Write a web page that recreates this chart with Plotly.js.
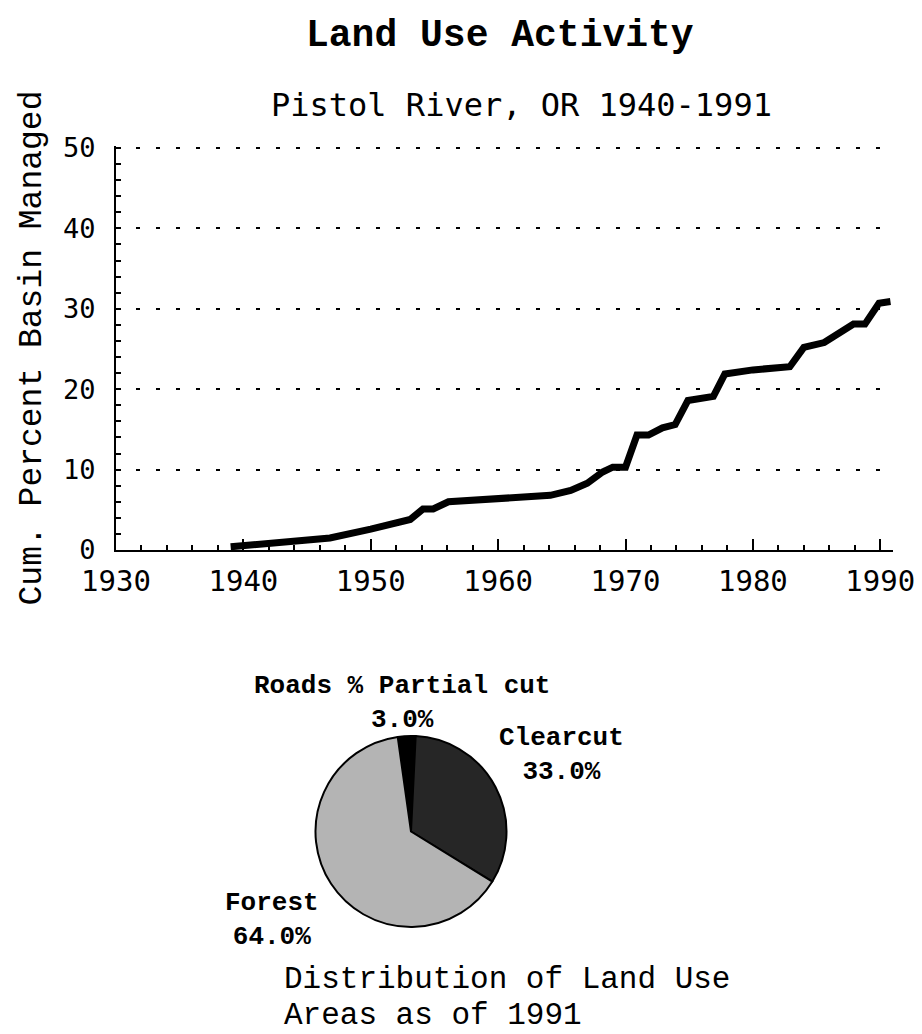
<!DOCTYPE html>
<html>
<head>
<meta charset="utf-8">
<script src="https://cdn.plot.ly/plotly-3.0.1.min.js"></script>
<style>
html,body{margin:0;padding:0;background:#fff;}
#chart{width:922px;height:1034px;}
</style>
</head>
<body>
<div id="chart"></div>
<script>
// ---- data ----
const years = [1939, 1946.8, 1950, 1953.1, 1954.1, 1954.9, 1956.1, 1960, 1964.1, 1965.7,
               1967.0, 1968.2, 1969.0, 1970.0, 1970.9, 1971.8, 1972.9, 1973.9, 1974.9, 1976.9,
               1977.8, 1980.0, 1981.0, 1982.9, 1984.0, 1985.6, 1987.9, 1988.8, 1989.9, 1990.8];
const pctManaged = [0.4, 1.5, 2.6, 3.8, 5.1, 5.1, 6.0, 6.4, 6.8, 7.4,
                    8.3, 9.7, 10.3, 10.3, 14.3, 14.3, 15.2, 15.6, 18.6, 19.1,
                    21.9, 22.4, 22.6, 22.8, 25.2, 25.8, 28.1, 28.1, 30.7, 30.9];
const xTickVals = [1930, 1940, 1950, 1960, 1970, 1980, 1990];
const yTickVals = [0, 10, 20, 30, 40, 50];
const pieLabels = ["Roads % Partial cut", "Clearcut", "Forest"];
const pieValues = [3, 33, 64];

const titleText = "Land Use Activity";
const subtitleText = "Pistol River, OR 1940-1991";
const yTitleText = "Cum. Percent Basin Managed";
const captionLines = ["Distribution of Land Use", "Areas as of 1991"];

// ---- layout helpers (pixel -> paper) ----
const W = 922, H = 1034;
const px = x => x / W;
const py = y => (H - y) / H;

const serifMono = "'Courier New', Courier, 'Nimbus Mono PS', 'FreeMono', 'Liberation Mono', monospace";
const sansMono = "'DejaVu Sans Mono', monospace";

const lineTrace = {
  type: 'scatter', mode: 'lines',
  x: years, y: pctManaged,
  line: {color: '#000', width: 7, shape: 'linear'},
  xaxis: 'x', yaxis: 'y',
  hoverinfo: 'skip', showlegend: false
};

const pieTrace = {
  type: 'pie',
  labels: pieLabels, values: pieValues,
  sort: false, direction: 'clockwise', rotation: -8,
  marker: {colors: ['#000000', '#262626', '#b4b4b4'], line: {color: '#000', width: 2}},
  textinfo: 'none', hoverinfo: 'skip', showlegend: false,
  domain: {x: [px(315), px(507)], y: [py(927), py(736)]}
};

// pie label positions (pixel)
const pieLabelPos = [[402, 703], [561, 755], [272, 920]];
const pieAnnots = pieLabels.map((lab, i) => ({
  xref: 'paper', yref: 'paper',
  x: px(pieLabelPos[i][0]), y: py(pieLabelPos[i][1]),
  xanchor: 'center', yanchor: 'middle', align: 'center',
  text: '<b>' + lab + '</b><br><b>' + pieValues[i].toFixed(1) + '%</b>',
  showarrow: false,
  font: {family: serifMono, size: 26, color: '#000'}
}));

const captionY = [979, 1015];
const captionAnnots = captionLines.map((t, i) => ({
  xref: 'paper', yref: 'paper', x: px(283), y: py(captionY[i]),
  xanchor: 'left', yanchor: 'middle', align: 'left',
  text: t, showarrow: false, borderpad: 0,
  font: {family: serifMono, size: 31, color: '#000'}
}));

const layout = {
  width: W, height: H,
  margin: {l: 0, r: 0, t: 0, b: 0},
  paper_bgcolor: '#fff', plot_bgcolor: '#fff',
  showlegend: false,
  xaxis: {
    domain: [px(116), px(893)],
    anchor: 'y',
    range: [1930, 1991],
    tickvals: xTickVals,
    ticktext: xTickVals.map(String),
    ticks: 'inside', ticklen: 11, tickwidth: 2, tickcolor: '#000',
    minor: {dtick: 2, tick0: 1930, ticks: 'inside', ticklen: 5, tickwidth: 2, tickcolor: '#000', showgrid: false},
    showline: true, linewidth: 2, linecolor: '#000',
    showgrid: false, zeroline: false,
    tickfont: {family: sansMono, size: 29, color: '#000'},
    ticklabelstandoff: 4,
    fixedrange: true
  },
  yaxis: {
    domain: [py(550), py(146)],
    anchor: 'x',
    range: [0, 50.25],
    tickvals: yTickVals,
    ticktext: yTickVals.map(String),
    ticks: 'inside', ticklen: 5, tickwidth: 2, tickcolor: '#000',
    minor: {dtick: 2, tick0: 0, ticks: 'inside', ticklen: 5, tickwidth: 2, tickcolor: '#000', showgrid: false},
    showline: true, linewidth: 2, linecolor: '#000',
    showgrid: true, gridcolor: '#000', gridwidth: 2, griddash: '4px,16px',
    zeroline: false,
    tickfont: {family: sansMono, size: 27, color: '#000'},
    ticklabelstandoff: 13,
    title: {text: yTitleText, font: {family: serifMono, size: 33, color: '#000'}, standoff: 12},
    fixedrange: true
  },
  annotations: [
    {xref: 'paper', yref: 'paper', x: px(500), y: py(35), xanchor: 'center', yanchor: 'middle',
     text: '<b>' + titleText + '</b>', showarrow: false,
     font: {family: serifMono, size: 38, color: '#000'}},
    {xref: 'paper', yref: 'paper', x: px(521), y: py(105), xanchor: 'center', yanchor: 'middle',
     text: subtitleText, showarrow: false,
     font: {family: sansMono, size: 32, color: '#000'}}
  ].concat(pieAnnots, captionAnnots)
};

Plotly.newPlot('chart', [lineTrace, pieTrace], layout, {staticPlot: true, displayModeBar: false});
</script>
</body>
</html>
